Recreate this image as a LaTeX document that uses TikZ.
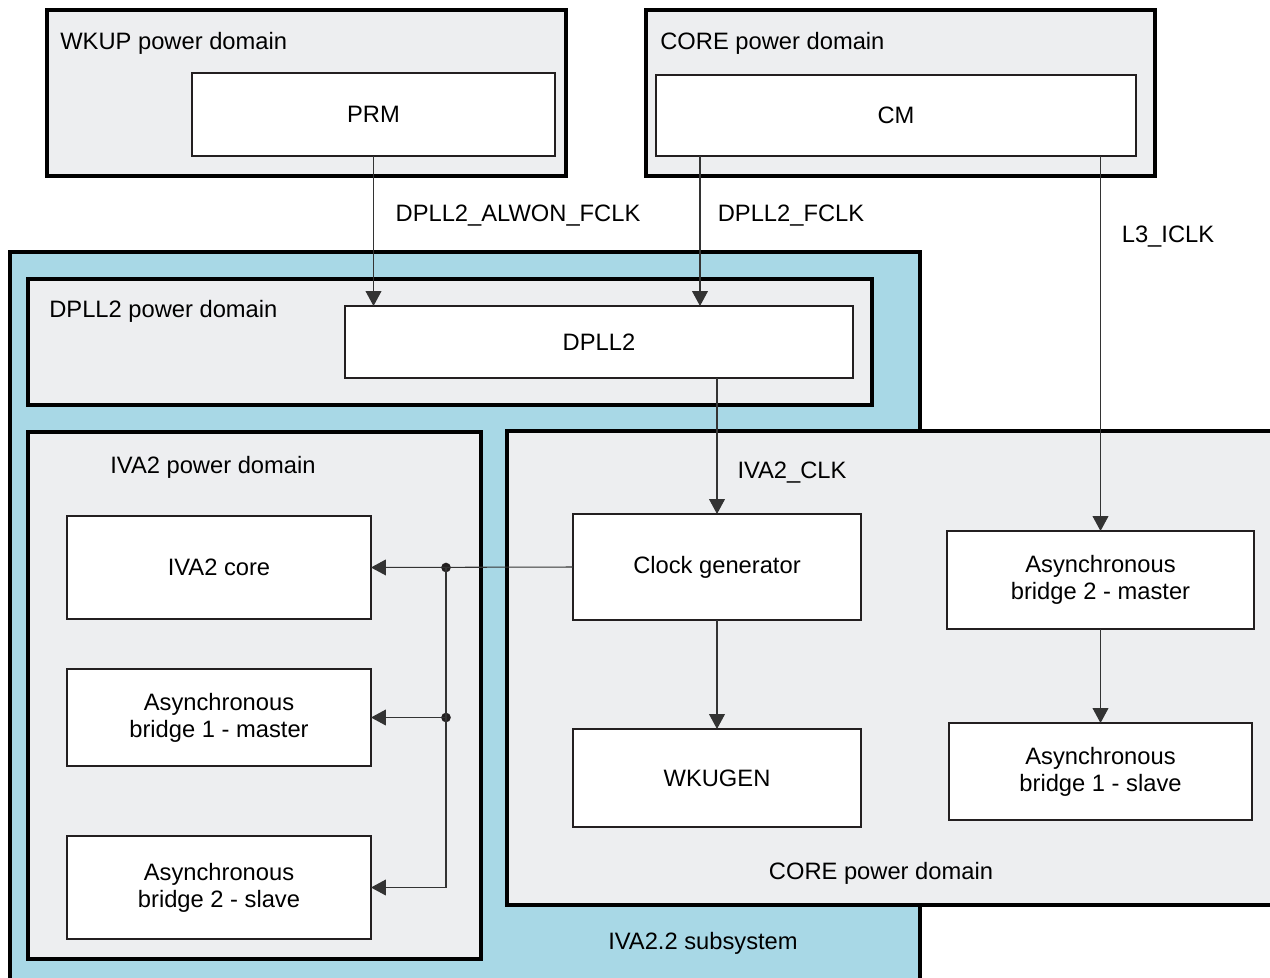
\documentclass[tikz,border=0pt]{standalone}
\usepackage{fontspec}
\setmainfont{Liberation Sans}
\usetikzlibrary{arrows.meta,fit}
\definecolor{domfill}{HTML}{EDEEF0}
\definecolor{subfill}{HTML}{A8D8E6}
\definecolor{boxline}{HTML}{231F20}
\definecolor{connline}{HTML}{333333}
\newcommand{\mainfnt}{\fontsize{13.5}{15.3}\selectfont}
\tikzset{
  domainbox/.style={draw=black, fill=domfill, line width=2.2pt, inner sep=0pt, outer sep=0pt},
  subbox/.style={draw=black, fill=subfill, line width=2.2pt, inner sep=0pt, outer sep=0pt},
  blk/.style={draw=boxline, fill=white, line width=1.1pt, inner sep=0pt, outer sep=0pt, align=center, font=\mainfnt},
  conn/.style={draw=connline, line width=0.6pt, -{Triangle[length=8.5pt,width=9pt]}},
  lbl/.style={inner sep=0pt, font=\mainfnt},
  jdot/.style={circle, fill=boxline, inner sep=0pt, minimum size=5.5pt}
}
\begin{document}
\begin{tikzpicture}[x=0.02cm, y=-0.02cm]
\clip (0,0) rectangle (1270,977);
\fill[white] (0,0) rectangle (1270,977);
% top domains
\node[domainbox, fit={(47,10)(566,176)}] (wkup) {};
\node[lbl, anchor=base west] (wkuplbl) at (60,49) {WKUP power domain};
\node[blk, minimum width=7.26cm, minimum height=1.66cm] (prm) at (373.5,114.5) {PRM};
\node[domainbox, fit={(646,10)(1155,176)}] (coretop) {};
\node[lbl, anchor=base west] (coretoplbl) at (660,49) {CORE power domain};
\node[blk, minimum width=9.6cm, minimum height=1.62cm] (cm) at (896,115.5) {CM};
% IVA2.2 subsystem
\node[subbox, fit={(10,252)(920,1000)}] (iva22) {};
\node[lbl, anchor=base] (iva22lbl) at (703,949) {IVA2.2 subsystem};
% DPLL2 domain
\node[domainbox, fit={(28,279)(872,405)}] (dplldom) {};
\node[lbl, anchor=base west] (dplllbl) at (49,317) {DPLL2 power domain};
\node[blk, minimum width=10.16cm, minimum height=1.44cm] (dpll) at (599,342) {DPLL2};
% IVA2 domain
\node[domainbox, fit={(28,432)(481,959)}] (ivadom) {};
\node[lbl, anchor=base west] (ivalbl) at (110,473) {IVA2 power domain};
\node[blk, minimum width=6.08cm, minimum height=2.06cm] (core) at (219,567.5) {IVA2 core};
\node[blk, minimum width=6.08cm, minimum height=1.94cm] (b1m) at (219,717.5) {Asynchronous\\bridge 1 - master};
\node[blk, minimum width=6.08cm, minimum height=2.06cm] (b2s) at (219,887.5) {Asynchronous\\bridge 2 - slave};
% CORE lower domain
\node[domainbox, fit={(507,431)(1300,905)}] (corelow) {};
\node[lbl, anchor=base] (corelowlbl) at (881,879) {CORE power domain};
\node[blk, minimum width=5.76cm, minimum height=2.12cm] (clk) at (717,567) {Clock generator};
\node[blk, minimum width=5.76cm, minimum height=1.96cm] (wk) at (717,778) {WKUGEN};
\node[blk, minimum width=6.14cm, minimum height=1.96cm] (abm) at (1100.5,580) {Asynchronous\\bridge 2 - master};
\node[blk, minimum width=6.06cm, minimum height=1.94cm] (abs) at (1100.5,771.5) {Asynchronous\\bridge 1 - slave};
% connectors
\coordinate (xa) at (700,0);
\draw[conn] (prm.south) -- (prm.south |- dpll.north);
\draw[conn] (cm.south -| xa) -- (dpll.north -| xa);
\draw[conn] (cm.south -| abm.north) -- (abm.north);
\draw[conn] (dpll.south -| clk.north) -- (clk.north);
\draw[conn] (clk.south) -- (wk.north);
\draw[conn] (abm.south) -- (abs.north);
\coordinate (j1) at (446,0);
\node[jdot] (d1) at (core.east -| j1) {};
\node[jdot] (d2) at (b1m.east -| j1) {};
\draw[conn] (clk.west) -- (core.east);
\draw[conn] (d2.center) -- (b1m.east);
\draw[conn] (d1.center) |- (b2s.east);
% edge labels
\node[lbl, anchor=base] (l1) at (518,221) {DPLL2\_ALWON\_FCLK};
\node[lbl, anchor=base] (l2) at (791,221) {DPLL2\_FCLK};
\node[lbl, anchor=base] (l3) at (1168,242) {L3\_ICLK};
\node[lbl, anchor=base] (l4) at (792,478) {IVA2\_CLK};
\end{tikzpicture}
\end{document}
